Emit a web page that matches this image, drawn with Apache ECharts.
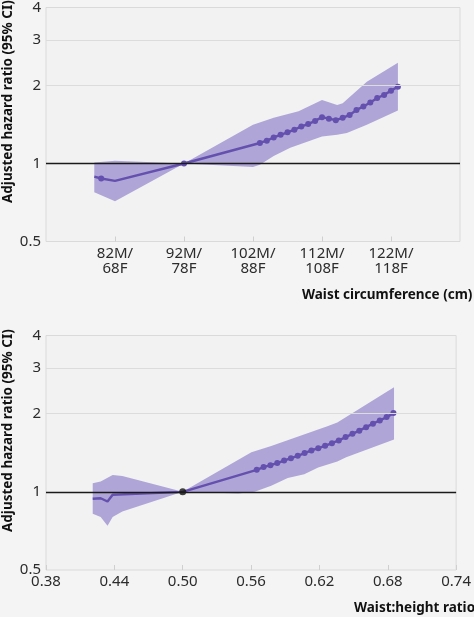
<!DOCTYPE html>
<html>
<head>
<meta charset="utf-8">
<script src="https://cdn.jsdelivr.net/npm/echarts@6/dist/echarts.min.js"></script>
<style>
  html, body { margin: 0; padding: 0; background: #f4f4f4; }
  #chart { width: 474px; height: 617px; }
</style>
</head>
<body>
<div id="chart"></div>
<script>
// ---- Data ----
const yTicks = [0.5, 1, 2, 3, 4];

// Top panel: waist circumference (men's cm on the axis)
const wcTicks = [82, 92, 102, 112, 122];
const wcTickLabels = ['82M/\n68F', '92M/\n78F', '102M/\n88F', '112M/\n108F', '122M/\n118F'];
const wcX  = [79, 80, 82, 92, 103, 104, 105, 106, 107, 108, 109, 110, 111, 112, 113, 114, 115, 116, 117, 118, 119, 120, 121, 122, 123];
const wcHR = [0.89, 0.875, 0.857, 1.0, 1.20, 1.225, 1.26, 1.29, 1.32, 1.35, 1.39, 1.42, 1.46, 1.51, 1.49, 1.47, 1.50, 1.54, 1.61, 1.66, 1.72, 1.79, 1.84, 1.91, 1.98];
const wcNoMarker = [79, 82];
const wcUpperX = [79, 82, 92, 102, 105, 108.6, 112, 114.2, 115, 118.5, 123];
const wcUpper  = [1.01, 1.025, 1.0, 1.41, 1.50, 1.59, 1.76, 1.68, 1.71, 2.07, 2.45];
const wcLowerX = [79, 82, 92, 102, 103, 105, 107.4, 112, 114.2, 115.6, 118.5, 123];
const wcLower  = [0.775, 0.715, 1.0, 0.97, 0.99, 1.07, 1.15, 1.27, 1.29, 1.31, 1.41, 1.60];

// Bottom panel: waist:height ratio
const whTicks = [0.38, 0.44, 0.50, 0.56, 0.62, 0.68, 0.74];
const whX  = [0.421, 0.428, 0.434, 0.4385, 0.50, 0.565, 0.571, 0.577, 0.583, 0.589, 0.595, 0.601, 0.607, 0.613, 0.619, 0.625, 0.631, 0.637, 0.643, 0.649, 0.655, 0.661, 0.667, 0.673, 0.679, 0.685];
const whHR = [0.94, 0.945, 0.918, 0.975, 1.0, 1.216, 1.245, 1.267, 1.29, 1.32, 1.348, 1.376, 1.41, 1.443, 1.473, 1.504, 1.54, 1.577, 1.625, 1.673, 1.72, 1.775, 1.83, 1.883, 1.94, 2.01];
const whNoMarker = [0.421, 0.428, 0.434, 0.4385, 0.50];
const whUpperX = [0.421, 0.428, 0.4385, 0.447, 0.50, 0.5603, 0.5777, 0.627, 0.6357, 0.6855];
const whUpper  = [1.08, 1.095, 1.16, 1.15, 1.0, 1.42, 1.50, 1.79, 1.85, 2.53];
const whLowerX = [0.421, 0.428, 0.434, 0.4385, 0.447, 0.50, 0.5487, 0.5632, 0.5777, 0.5922, 0.6067, 0.6189, 0.6357, 0.6435, 0.6855];
const whLower  = [0.823, 0.80, 0.74, 0.80, 0.84, 1.0, 0.985, 1.0, 1.055, 1.13, 1.17, 1.24, 1.31, 1.36, 1.59];

const yName = 'Adjusted hazard ratio (95% CI)';
const xNameTop = 'Waist circumference (cm)';
const xNameBottom = 'Waist:height ratio';

// ---- Styles ----
const FONT = 'Noto Sans';
const LINE = '#6450ae';
const BAND = '#b0a5d7';
const TXT = '#2b2b2b';
const NAME_SIZE = 13.5;

function bandSeries(idx, ux, uy, lx, ly) {
  return {
    type: 'custom', xAxisIndex: idx, yAxisIndex: idx, z: 2, silent: true,
    data: [[ux[0], uy[0]]],
    renderItem: function (params, api) {
      const pts = [];
      for (let i = 0; i < ux.length; i++) pts.push(api.coord([ux[i], uy[i]]));
      for (let i = lx.length - 1; i >= 0; i--) pts.push(api.coord([lx[i], ly[i]]));
      return { type: 'polygon', shape: { points: pts }, style: { fill: BAND } };
    }
  };
}
function refSeries(idx) {
  return {
    type: 'line', xAxisIndex: idx, yAxisIndex: idx, z: 1, data: [], silent: true,
    markLine: {
      silent: true, symbol: 'none', label: { show: false }, animation: false,
      data: [
        { yAxis: 2, lineStyle: { color: '#dcdcdc', width: 1, type: 'solid' } },
        { yAxis: 3, lineStyle: { color: '#dcdcdc', width: 1, type: 'solid' } },
        { yAxis: 1, lineStyle: { color: '#1a1a1a', width: 1.4, type: 'solid' } }
      ]
    }
  };
}
function lineSeries(idx, xs, ys, noMarker) {
  return {
    type: 'line', xAxisIndex: idx, yAxisIndex: idx, z: 3,
    data: xs.map((x, i) => [x, ys[i]]),
    symbol: 'circle', showAllSymbol: true,
    symbolSize: (v) => noMarker.includes(v[0]) ? 0 : 6,
    lineStyle: { color: LINE, width: 2.4 },
    itemStyle: { color: LINE },
    silent: true
  };
}
function yAxis(idx) {
  return {
    type: 'log', logBase: 2, gridIndex: idx, min: 0.5, max: 4,
    axisLine: { show: false }, axisTick: { show: false }, splitLine: { show: false },
    axisLabel: { customValues: yTicks, margin: 5, fontFamily: FONT, fontSize: 15, color: TXT }
  };
}

const chart = echarts.init(document.getElementById('chart'), null, { renderer: 'canvas' });
chart.setOption({
  animation: false,
  backgroundColor: '#f4f4f4',
  grid: [
    { left: 46, right: 14, top: 7, height: 234.5, show: true, backgroundColor: '#f2f2f2', borderColor: '#dadada', borderWidth: 1 },
    { left: 46, right: 14, top: 335.5, height: 234.5, show: true, backgroundColor: '#f2f2f2', borderColor: '#dadada', borderWidth: 1 }
  ],
  xAxis: [
    {
      type: 'value', gridIndex: 0, min: 72, max: 132,
      axisLine: { show: false }, splitLine: { show: false },
      axisTick: { show: true, inside: true, length: 5, customValues: wcTicks, lineStyle: { color: '#cfcfcf' } },
      axisLabel: { customValues: wcTicks, formatter: (v) => wcTickLabels[wcTicks.indexOf(v)],
        margin: 5, fontFamily: FONT, fontSize: 15, lineHeight: 15, color: TXT }
    },
    {
      type: 'value', gridIndex: 1, min: 0.38, max: 0.74,
      axisLine: { show: false }, splitLine: { show: false },
      axisTick: { show: true, inside: true, length: 5, customValues: whTicks, lineStyle: { color: '#cfcfcf' } },
      axisLabel: { customValues: whTicks, formatter: (v) => v.toFixed(2),
        margin: 4, fontFamily: FONT, fontSize: 15, color: TXT }
    }
  ],
  yAxis: [yAxis(0), yAxis(1)],
  graphic: [
    { type: 'text', x: 8, y: 203, rotation: Math.PI / 2,
      style: { text: yName, fontFamily: FONT, fontWeight: 'bold', fontSize: NAME_SIZE, fill: '#111', textAlign: 'left', textVerticalAlign: 'middle' } },
    { type: 'text', x: 8, y: 532, rotation: Math.PI / 2,
      style: { text: yName, fontFamily: FONT, fontWeight: 'bold', fontSize: NAME_SIZE, fill: '#111', textAlign: 'left', textVerticalAlign: 'middle' } },
    { type: 'text', x: 302, y: 295,
      style: { text: xNameTop, fontFamily: FONT, fontWeight: 'bold', fontSize: NAME_SIZE, fill: '#111', textAlign: 'left', textVerticalAlign: 'middle' } },
    { type: 'text', x: 354, y: 608,
      style: { text: xNameBottom, fontFamily: FONT, fontWeight: 'bold', fontSize: NAME_SIZE, fill: '#111', textAlign: 'left', textVerticalAlign: 'middle' } }
  ],
  series: [
    refSeries(0),
    bandSeries(0, wcUpperX, wcUpper, wcLowerX, wcLower),
    lineSeries(0, wcX, wcHR, wcNoMarker),
    refSeries(1),
    bandSeries(1, whUpperX, whUpper, whLowerX, whLower),
    lineSeries(1, whX, whHR, whNoMarker),
    {
      type: 'scatter', xAxisIndex: 1, yAxisIndex: 1, z: 4, silent: true,
      data: whX.map((x, i) => [x, whHR[i]]).filter(p => p[1] === 1),
      symbol: 'circle', symbolSize: 7, itemStyle: { color: '#111' }
    }
  ]
});
</script>
</body>
</html>
